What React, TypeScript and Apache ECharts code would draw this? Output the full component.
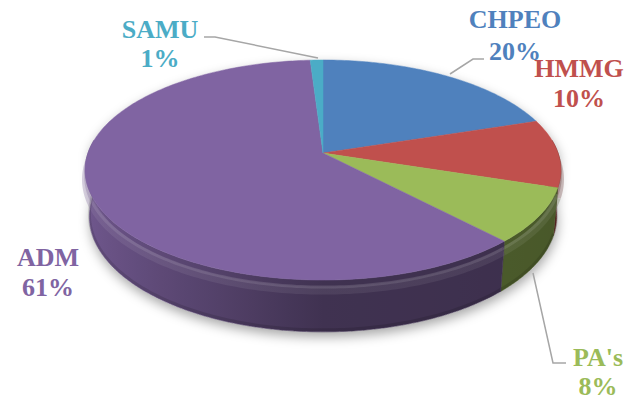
import React, { useEffect, useRef } from "react";
import * as echarts from "echarts";

// ---- data ----
const categories = ["CHPEO", "HMMG", "PA's", "ADM", "SAMU"];
const values = [20, 10, 8, 61, 1];
const colors = ["#4F81BD", "#C0504D", "#9BBB59", "#8064A2", "#4BACC6"];

// ---- label layout (x centre, line-centre y of name, line-centre y of percentage) ----
const labelPos = [
  [515, 19.5, 51],
  [579, 68, 98],
  [598, 357, 386],
  [48, 257, 287],
  [160, 29, 58],
];
const leaderLines: number[][][] = [
  [[450, 74], [473, 59], [484, 59]],
  [],
  [[533, 273], [553, 363], [566, 363]],
  [],
  [[318, 58], [215, 37], [204, 37]],
];

// ---- 3D projection parameters ----
const CX = 323, CY = 153, A = 235, K = 0.174, S = 0.457, C = 0.889, HH = 0.225;
function proj(theta: number, y: number): number[] {
  const X = Math.sin(theta), Z = Math.cos(theta);
  const d = 1 + K * (Z * C - y * S);
  return [CX + (A * X) / d, CY - (A * (y * C + Z * S)) / d];
}

function hexToRgb(h: string) {
  const n = parseInt(h.slice(1), 16);
  return [(n >> 16) & 255, (n >> 8) & 255, n & 255];
}
function bright(t: number) {
  const sn = Math.sin(t);
  return 0.5 + 0.38 * Math.max(0, -sn) - 0.03 * Math.max(0, sn);
}

const total = values.reduce((a, b) => a + b, 0);
const cum: number[] = [0];
values.forEach((v, i) => cum.push(cum[i] + v));

const VIS0 = Math.PI / 2 - 0.12;
const VIS1 = (3 * Math.PI) / 2 + 0.12;

function hGradient(base: number[], lightMix: number, alpha: number) {
  const xL = proj((3 * Math.PI) / 2, -HH / 2)[0] - 4;
  const xR = proj(Math.PI / 2, -HH / 2)[0] + 4;
  const stops: any[] = [];
  const N = 24;
  for (let k = N; k >= 0; k--) {
    const t = Math.PI / 2 + (Math.PI * k) / N;
    const x = proj(t, -HH / 2)[0];
    const b = bright(t);
    const mid = base.map((c) => c * b);
    const col = mid.map((c) => c + (255 - c) * lightMix);
    const off = Math.max(0, Math.min(1, (x - xL) / (xR - xL)));
    stops.push({ offset: off, color: `rgba(${col.map((v) => Math.round(v)).join(",")},${alpha})` });
  }
  return new echarts.graphic.LinearGradient(xL, 0, xR, 0, stops, true);
}

export default function App() {
  const ref = useRef<HTMLDivElement>(null);
  useEffect(() => {
    if (!ref.current) return;
    const chart = echarts.init(ref.current, null, { renderer: "svg" });
    const seriesData = values.map((v, i) => ({ value: v, name: categories[i] }));

    const wallsRender = (params: any, api: any) => {
      const i = params.dataIndex;
      let a0 = (cum[i] / total) * Math.PI * 2;
      let a1 = ((cum[i] + api.value(0)) / total) * Math.PI * 2;
      a0 = Math.max(a0, VIS0);
      a1 = Math.min(a1, VIS1);
      if (a1 <= a0) return { type: "group", children: [] };
      const base = hexToRgb(colors[i]);
      const n = Math.max(2, Math.ceil((a1 - a0) / (Math.PI / 180)));
      const top: number[][] = [];
      const bot: number[][] = [];
      const hl: number[][] = [];
      const hl2: number[][] = [];
      for (let j = 0; j <= n; j++) {
        const t = a0 + ((a1 - a0) * j) / n;
        top.push(proj(t, 0));
        bot.push(proj(t, -HH));
        hl.push(proj(t, -0.045));
        hl2.push(proj(t, -0.03));
      }
      const pts = top.concat(bot.slice().reverse());
      return {
        type: "group",
        children: [
          {
            type: "polygon",
            shape: { points: pts },
            style: { fill: hGradient(base, 0, 1), stroke: hGradient(base, 0, 1), lineWidth: 0.6 },
          },
          {
            type: "polyline",
            shape: { points: hl },
            style: { fill: "none", stroke: hGradient(base, 0.2, 0.35), lineWidth: 8 },
          },
          {
            type: "polyline",
            shape: { points: hl2 },
            style: { fill: "none", stroke: hGradient(base, 0.28, 0.45), lineWidth: 3 },
          },
          {
            type: "polyline",
            shape: { points: bot.map((p) => [p[0], p[1] - 2]) },
            style: { fill: "none", stroke: "rgba(0,0,0,0.12)", lineWidth: 3 },
          },
        ],
      };
    };

    const topsRender = (params: any, api: any) => {
      const i = params.dataIndex;
      const a0 = (cum[i] / total) * Math.PI * 2;
      const a1 = ((cum[i] + api.value(0)) / total) * Math.PI * 2;
      const n = Math.max(2, Math.ceil((a1 - a0) / (Math.PI / 180)));
      const pts: number[][] = [[CX, CY]];
      for (let j = 0; j <= n; j++) pts.push(proj(a0 + ((a1 - a0) * j) / n, 0));
      return {
        type: "polygon",
        shape: { points: pts },
        style: { fill: colors[i], stroke: colors[i], lineWidth: 0.5 },
      };
    };

    // shadow outline (bottom rim)
    const shadowPts: number[][] = [];
    for (let j = 0; j < 180; j++) {
      const t = (j / 180) * Math.PI * 2;
      shadowPts.push(proj(t, Math.cos(t) < 0 ? -HH : 0));
    }

    const graphics: any[] = [
      {
        type: "polygon",
        z: 0,
        shape: { points: shadowPts },
        style: {
          fill: "#ffffff",
          shadowBlur: 12,
          shadowColor: "rgba(0,0,0,0.35)",
          shadowOffsetX: 1,
          shadowOffsetY: 5,
        },
      },
    ];
    const font = 'bold 26px "Liberation Serif", "Times New Roman", serif';
    categories.forEach((name, i) => {
      const [x, y1, y2] = labelPos[i];
      const pct = Math.round((values[i] / total) * 100) + "%";
      graphics.push({
        type: "text",
        z: 10,
        x,
        y: y1,
        style: { text: name, font, fill: colors[i], align: "center", verticalAlign: "middle" },
      });
      graphics.push({
        type: "text",
        z: 10,
        x,
        y: y2,
        style: { text: pct, font, fill: colors[i], align: "center", verticalAlign: "middle" },
      });
      if (leaderLines[i].length) {
        graphics.push({
          type: "polyline",
          z: 10,
          shape: { points: leaderLines[i] },
          style: { stroke: "#A6A6A6", lineWidth: 1.5, fill: "none" },
        });
      }
    });

    chart.setOption({
      animation: false,
      backgroundColor: "#ffffff",
      graphic: graphics,
      series: [
        { type: "custom", coordinateSystem: "none", z: 3, renderItem: wallsRender, data: seriesData, silent: true },
        { type: "custom", coordinateSystem: "none", z: 4, renderItem: topsRender, data: seriesData, silent: true },
      ],
    });
    return () => chart.dispose();
  }, []);
  return <div ref={ref} style={{ position: "fixed", left: 0, top: 0, width: 635, height: 404 }} />;
}
